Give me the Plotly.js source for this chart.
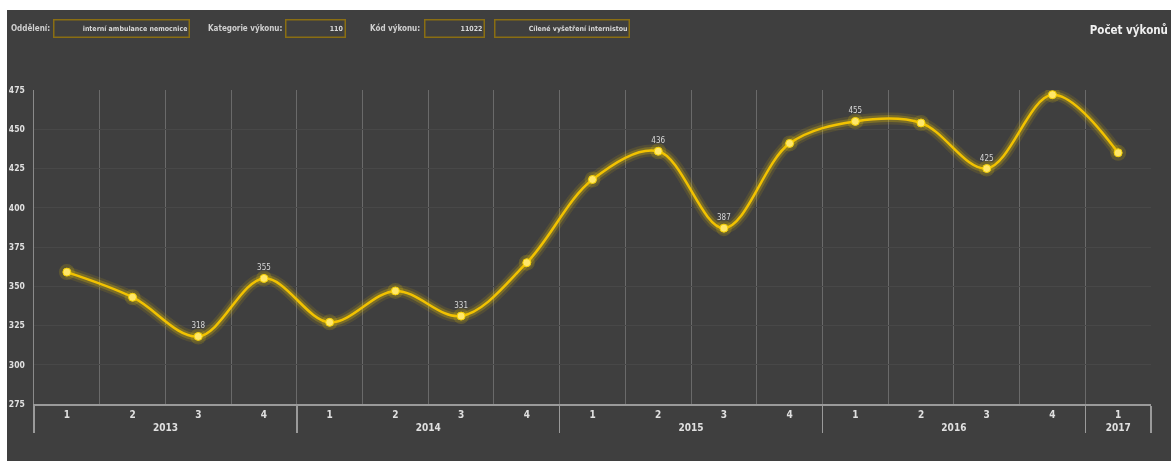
<!DOCTYPE html>
<html>
<head>
<meta charset="utf-8">
<script src="https://cdn.plot.ly/plotly-3.0.1.min.js"></script>
<style>
  html, body { margin: 0; padding: 0; background: #ffffff; width: 1171px; height: 461px; overflow: hidden; }
  #chart { position: absolute; left: 7px; top: 10px; width: 1164px; height: 451px; }
</style>
</head>
<body>
<div id="chart"></div>
<script>
// ---- data ----
const years = ['2013','2013','2013','2013','2014','2014','2014','2014','2015','2015','2015','2015','2016','2016','2016','2016','2017'];
const quarters = ['1','2','3','4','1','2','3','4','1','2','3','4','1','2','3','4','1'];
const values = [359, 343, 318, 355, 327, 347, 331, 365, 418, 436, 387, 441, 455, 454, 425, 472, 435];
const pointLabels = ['', '', '318', '355', '', '', '331', '', '', '436', '387', '', '455', '', '425', '472', ''];
const yTicks = [275, 300, 325, 350, 375, 400, 425, 450, 475];

const headerLabels = ['Oddělení:', 'Kategorie výkonu:', 'Kód výkonu:'];
const headerValues = ['interní ambulance nemocnice', '110', '11022', 'Cílené vyšetření internistou'];
const chartTitle = 'Počet výkonů';

// ---- layout geometry ----
const W = 1164, H = 451;
const m = { l: 27, r: 20, t: 80, b: 57 };
const PW = W - m.l - m.r, PH = H - m.t - m.b;
const OX = 7, OY = 10;
const px = x => (x - OX - m.l) / PW;
const py = y => 1 - (y - OY - m.t) / PH;

const FONT = '"Liberation Sans Narrow", "DejaVu Sans Condensed", "Roboto Condensed", "Liberation Sans", sans-serif';
const yellow = '#f2c200';

const x = [years, quarters];

const traces = [
  { x, y: values, type: 'scatter', mode: 'lines', line: { shape: 'spline', smoothing: 1, color: '#e8c000', width: 12 }, opacity: 0.12, hoverinfo: 'skip' },
  { x, y: values, type: 'scatter', mode: 'lines', line: { shape: 'spline', smoothing: 1, color: '#f0cc00', width: 7 }, opacity: 0.25, hoverinfo: 'skip' },
  { x, y: values, type: 'scatter', mode: 'markers', marker: { size: 16, color: '#e8c800' }, opacity: 0.18, hoverinfo: 'skip' },
  { x, y: values, type: 'scatter', mode: 'lines', line: { shape: 'spline', smoothing: 1, color: yellow, width: 2.5 } },
  { x, y: values, type: 'scatter', mode: 'markers+text', text: pointLabels, textposition: 'top center',
    textfont: { family: FONT, size: 8, color: '#d8d8d8' },
    marker: { size: 8, color: '#ffe76a', line: { color: '#f5d000', width: 1 } } }
];

const headerBoxes = [
  { lx: 52, bx: 53, bw: 142, label: 0, val: 0 },
  { lx: 284, bx: 285, bw: 66, label: 1, val: 1 },
  { lx: 422, bx: 424, bw: 66, label: 2, val: 2 },
  { lx: null, bx: 494, bw: 141, label: null, val: 3 }
];
const annotations = [];
const hy = py(28);
headerBoxes.forEach(b => {
  if (b.label !== null) {
    annotations.push({ xref: 'paper', yref: 'paper', x: px(b.lx), y: hy, xanchor: 'right', yanchor: 'middle',
      text: headerLabels[b.label], showarrow: false, font: { family: FONT, size: 8, weight: 'bold', color: '#d0d0d0' } });
  }
  annotations.push({ xref: 'paper', yref: 'paper', x: px(b.bx), y: hy, xanchor: 'left', yanchor: 'middle',
    text: headerValues[b.val], showarrow: false, align: 'right', width: b.bw - 10, height: 14,
    borderpad: 1, borderwidth: 1.5, bordercolor: '#8a6e12',
    font: { family: FONT, size: 7, weight: 'bold', color: '#d8d8d8' } });
});

const layout = {
  width: W, height: H,
  margin: m,
  paper_bgcolor: '#3f3f3f',
  plot_bgcolor: '#3f3f3f',
  showlegend: false,
  title: { text: chartTitle, xref: 'container', yref: 'container', x: (1168 - OX) / W, xanchor: 'right',
    y: 1 - (30 - OY) / H, yanchor: 'middle', font: { family: FONT, size: 11.5, weight: 'bold', color: '#f0f0f0' } },
  xaxis: {
    type: 'multicategory',
    range: [-0.5, values.length - 0.5],
    tickson: 'boundaries',
    showgrid: true, gridcolor: '#6a6a6a', gridwidth: 1,
    showline: true, linecolor: '#9a9a9a', linewidth: 1.5,
    showdividers: true, dividercolor: '#9a9a9a', dividerwidth: 1.5,
    ticks: '',
    zeroline: false,
    tickfont: { family: FONT, size: 10, weight: 'bold', color: '#e0e0e0' },
    fixedrange: true
  },
  yaxis: {
    range: [275, 475], tickvals: yTicks, ticktext: yTicks.map(String),
    showgrid: true, gridcolor: '#484848', gridwidth: 1,
    showline: true, linecolor: '#8a8a8a', linewidth: 1.5,
    ticks: '', zeroline: false, ticklabelstandoff: 6,
    tickfont: { family: FONT, size: 8.5, weight: 'bold', color: '#e0e0e0' },
    fixedrange: true
  },
  annotations
};

Plotly.newPlot('chart', traces, layout, { displayModeBar: false, staticPlot: true });
</script>
</body>
</html>
